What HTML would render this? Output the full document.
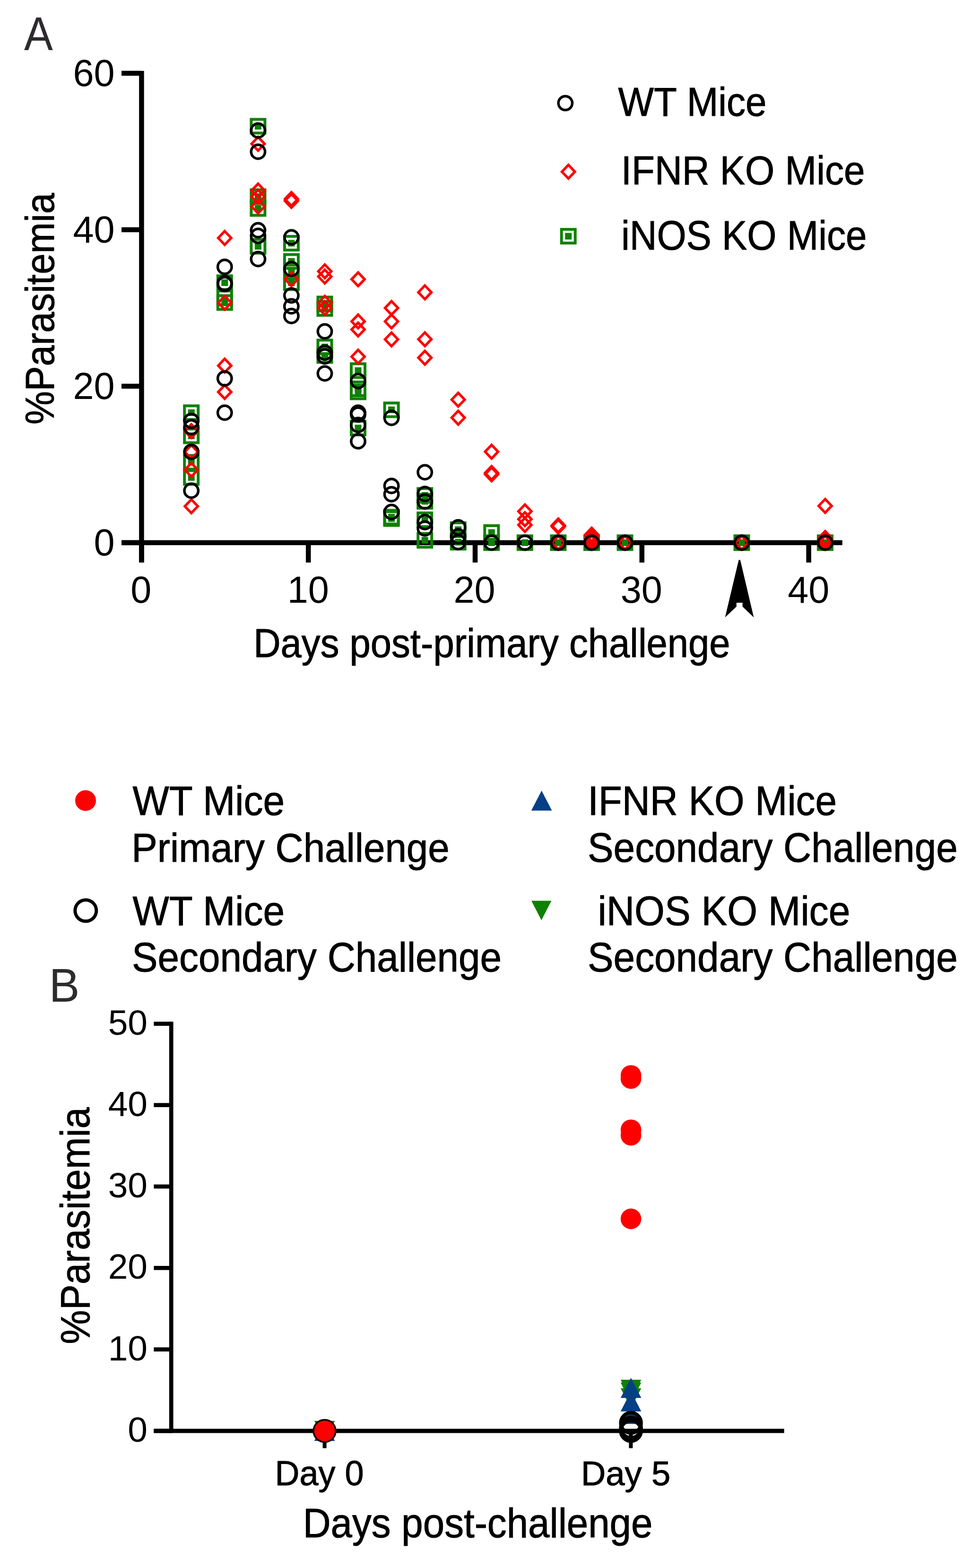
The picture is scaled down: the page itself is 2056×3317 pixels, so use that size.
<!DOCTYPE html>
<html><head><meta charset="utf-8"><title>Parasitemia figure</title>
<style>
html,body{margin:0;padding:0;background:#fff;}
body{width:2056px;height:3317px;overflow:hidden;}
svg{display:block;}
text{font-family:"Liberation Sans",Arial,sans-serif;}
</style></head>
<body>
<svg width="2056" height="3317" viewBox="0 0 2056 3317">
<rect width="2056" height="3317" fill="#fff"/>
<text transform="translate(51.07,105.70) scale(0.9137,1)" font-size="99.78" fill="#2d2b2e">A</text>
<rect x="294.15" y="150" width="10.5" height="1040" fill="#000"/>
<rect x="257" y="149.75" width="42.40" height="10.5" fill="#000"/>
<rect x="257" y="480.75" width="42.40" height="10.5" fill="#000"/>
<rect x="257" y="811.75" width="42.40" height="10.5" fill="#000"/>
<rect x="257" y="1142.75" width="42.40" height="10.5" fill="#000"/>
<rect x="257" y="1142.75" width="1524.70" height="10.5" fill="#000"/>
<rect x="294.15" y="1148" width="10.5" height="42" fill="#000"/>
<rect x="646.95" y="1148" width="10.5" height="42" fill="#000"/>
<rect x="999.75" y="1148" width="10.5" height="42" fill="#000"/>
<rect x="1352.55" y="1148" width="10.5" height="42" fill="#000"/>
<rect x="1705.35" y="1148" width="10.5" height="42" fill="#000"/>
<text x="154.56" y="181.80" font-size="79.20" fill="#000">60</text>
<text x="154.56" y="512.80" font-size="79.20" fill="#000">40</text>
<text x="154.56" y="843.80" font-size="79.20" fill="#000">20</text>
<text x="198.51" y="1174.80" font-size="79.20" fill="#000">0</text>
<text x="276.32" y="1274.70" font-size="79.20" fill="#000">0</text>
<text x="607.66" y="1274.70" font-size="79.20" fill="#000">10</text>
<text x="959.55" y="1274.70" font-size="79.20" fill="#000">20</text>
<text x="1312.84" y="1274.70" font-size="79.20" fill="#000">30</text>
<text x="1666.24" y="1274.70" font-size="79.20" fill="#000">40</text>
<text transform="translate(113.70,898.08) rotate(-90) scale(0.9287,1)" font-size="85.53" fill="#000" stroke="#000" stroke-width="1.0" stroke-linejoin="round">%Parasitemia</text>
<text transform="translate(536.13,1389.90) scale(0.9243,1)" font-size="86.11" fill="#000" stroke="#000" stroke-width="1.0" stroke-linejoin="round">Days post-primary challenge</text>
<path d="M1562.6,1184.5 L1565.8,1184.5 L1594.4,1306 L1570.6,1283.3 L1570.6,1275 L1557.8,1275 L1557.8,1283.3 L1533.7,1306 Z" fill="#000"/>
<text transform="translate(1307.50,244.70) scale(0.9294,1)" font-size="86.11" fill="#000" stroke="#000" stroke-width="1.0" stroke-linejoin="round">WT Mice</text>
<text transform="translate(1313.80,390.40) scale(0.9326,1)" font-size="85.82" fill="#000" stroke="#000" stroke-width="1.0" stroke-linejoin="round">IFNR KO Mice</text>
<text transform="translate(1314.01,527.60) scale(0.9185,1)" font-size="86.98" fill="#000" stroke="#000" stroke-width="1.0" stroke-linejoin="round">iNOS KO Mice</text>
<circle cx="1195.8" cy="218.1" r="14.7" fill="none" stroke="#000" stroke-width="5.5"/>
<path d="M1202.3,348.9 L1216.0,363.3 L1202.3,377.7 L1188.6,363.3 Z" fill="none" stroke="#ff0000" stroke-width="5.4"/>
<rect x="1187.7" y="485.2" width="29" height="29" fill="none" stroke="#108004" stroke-width="6"/><rect x="1195.2" y="492.7" width="14" height="14" fill="#108004"/>
<rect x="390.2" y="858.5" width="29" height="29" fill="none" stroke="#108004" stroke-width="6"/><rect x="397.7" y="866.0" width="14" height="14" fill="#108004"/>
<rect x="390.2" y="907.5" width="29" height="29" fill="none" stroke="#108004" stroke-width="6"/><rect x="397.7" y="915.0" width="14" height="14" fill="#108004"/>
<rect x="390.2" y="963.5" width="29" height="29" fill="none" stroke="#108004" stroke-width="6"/><rect x="397.7" y="971.0" width="14" height="14" fill="#108004"/>
<rect x="390.2" y="995.5" width="29" height="29" fill="none" stroke="#108004" stroke-width="6"/><rect x="397.7" y="1003.0" width="14" height="14" fill="#108004"/>
<rect x="460.8" y="583.5" width="29" height="29" fill="none" stroke="#108004" stroke-width="6"/><rect x="468.3" y="591.0" width="14" height="14" fill="#108004"/>
<rect x="460.8" y="615.5" width="29" height="29" fill="none" stroke="#108004" stroke-width="6"/><rect x="468.3" y="623.0" width="14" height="14" fill="#108004"/>
<rect x="460.8" y="625.5" width="29" height="29" fill="none" stroke="#108004" stroke-width="6"/><rect x="468.3" y="633.0" width="14" height="14" fill="#108004"/>
<rect x="531.4" y="252.5" width="29" height="29" fill="none" stroke="#108004" stroke-width="6"/><rect x="538.9" y="260.0" width="14" height="14" fill="#108004"/>
<rect x="531.4" y="401.5" width="29" height="29" fill="none" stroke="#108004" stroke-width="6"/><rect x="538.9" y="409.0" width="14" height="14" fill="#108004"/>
<rect x="531.4" y="426.5" width="29" height="29" fill="none" stroke="#108004" stroke-width="6"/><rect x="538.9" y="434.0" width="14" height="14" fill="#108004"/>
<rect x="531.4" y="506.5" width="29" height="29" fill="none" stroke="#108004" stroke-width="6"/><rect x="538.9" y="514.0" width="14" height="14" fill="#108004"/>
<rect x="601.9" y="500.0" width="29" height="29" fill="none" stroke="#108004" stroke-width="6"/><rect x="609.4" y="507.5" width="14" height="14" fill="#108004"/>
<rect x="601.9" y="538.5" width="29" height="29" fill="none" stroke="#108004" stroke-width="6"/><rect x="609.4" y="546.0" width="14" height="14" fill="#108004"/>
<rect x="601.9" y="560.5" width="29" height="29" fill="none" stroke="#108004" stroke-width="6"/><rect x="609.4" y="568.0" width="14" height="14" fill="#108004"/>
<rect x="601.9" y="583.5" width="29" height="29" fill="none" stroke="#108004" stroke-width="6"/><rect x="609.4" y="591.0" width="14" height="14" fill="#108004"/>
<rect x="672.5" y="628.5" width="29" height="29" fill="none" stroke="#108004" stroke-width="6"/><rect x="680.0" y="636.0" width="14" height="14" fill="#108004"/>
<rect x="672.5" y="638.0" width="29" height="29" fill="none" stroke="#108004" stroke-width="6"/><rect x="680.0" y="645.5" width="14" height="14" fill="#108004"/>
<rect x="672.5" y="719.5" width="29" height="29" fill="none" stroke="#108004" stroke-width="6"/><rect x="680.0" y="727.0" width="14" height="14" fill="#108004"/>
<rect x="672.5" y="737.5" width="29" height="29" fill="none" stroke="#108004" stroke-width="6"/><rect x="680.0" y="745.0" width="14" height="14" fill="#108004"/>
<rect x="743.0" y="769.5" width="29" height="29" fill="none" stroke="#108004" stroke-width="6"/><rect x="750.5" y="777.0" width="14" height="14" fill="#108004"/>
<rect x="743.0" y="808.0" width="29" height="29" fill="none" stroke="#108004" stroke-width="6"/><rect x="750.5" y="815.5" width="14" height="14" fill="#108004"/>
<rect x="743.0" y="814.5" width="29" height="29" fill="none" stroke="#108004" stroke-width="6"/><rect x="750.5" y="822.0" width="14" height="14" fill="#108004"/>
<rect x="743.0" y="891.0" width="29" height="29" fill="none" stroke="#108004" stroke-width="6"/><rect x="750.5" y="898.5" width="14" height="14" fill="#108004"/>
<rect x="813.6" y="852.5" width="29" height="29" fill="none" stroke="#108004" stroke-width="6"/><rect x="821.1" y="860.0" width="14" height="14" fill="#108004"/>
<rect x="813.6" y="1079.5" width="29" height="29" fill="none" stroke="#108004" stroke-width="6"/><rect x="821.1" y="1087.0" width="14" height="14" fill="#108004"/>
<rect x="813.6" y="1082.5" width="29" height="29" fill="none" stroke="#108004" stroke-width="6"/><rect x="821.1" y="1090.0" width="14" height="14" fill="#108004"/>
<rect x="884.2" y="1033.5" width="29" height="29" fill="none" stroke="#108004" stroke-width="6"/><rect x="891.7" y="1041.0" width="14" height="14" fill="#108004"/>
<rect x="884.2" y="1046.0" width="29" height="29" fill="none" stroke="#108004" stroke-width="6"/><rect x="891.7" y="1053.5" width="14" height="14" fill="#108004"/>
<rect x="884.2" y="1085.1" width="29" height="29" fill="none" stroke="#108004" stroke-width="6"/><rect x="891.7" y="1092.6" width="14" height="14" fill="#108004"/>
<rect x="884.2" y="1128.5" width="29" height="29" fill="none" stroke="#108004" stroke-width="6"/><rect x="891.7" y="1136.0" width="14" height="14" fill="#108004"/>
<rect x="954.7" y="1106.0" width="29" height="29" fill="none" stroke="#108004" stroke-width="6"/><rect x="962.2" y="1113.5" width="14" height="14" fill="#108004"/>
<rect x="954.7" y="1132.5" width="29" height="29" fill="none" stroke="#108004" stroke-width="6"/><rect x="962.2" y="1140.0" width="14" height="14" fill="#108004"/>
<rect x="1025.3" y="1112.0" width="29" height="29" fill="none" stroke="#108004" stroke-width="6"/><rect x="1032.8" y="1119.5" width="14" height="14" fill="#108004"/>
<rect x="1025.3" y="1133.5" width="29" height="29" fill="none" stroke="#108004" stroke-width="6"/><rect x="1032.8" y="1141.0" width="14" height="14" fill="#108004"/>
<rect x="1095.8" y="1133.5" width="29" height="29" fill="none" stroke="#108004" stroke-width="6"/><rect x="1103.3" y="1141.0" width="14" height="14" fill="#108004"/>
<rect x="1166.4" y="1133.5" width="29" height="29" fill="none" stroke="#108004" stroke-width="6"/><rect x="1173.9" y="1141.0" width="14" height="14" fill="#108004"/>
<rect x="1237.0" y="1133.5" width="29" height="29" fill="none" stroke="#108004" stroke-width="6"/><rect x="1244.5" y="1141.0" width="14" height="14" fill="#108004"/>
<rect x="1307.5" y="1133.5" width="29" height="29" fill="none" stroke="#108004" stroke-width="6"/><rect x="1315.0" y="1141.0" width="14" height="14" fill="#108004"/>
<rect x="1554.5" y="1133.5" width="29" height="29" fill="none" stroke="#108004" stroke-width="6"/><rect x="1562.0" y="1141.0" width="14" height="14" fill="#108004"/>
<rect x="1730.9" y="1133.5" width="29" height="29" fill="none" stroke="#108004" stroke-width="6"/><rect x="1738.4" y="1141.0" width="14" height="14" fill="#108004"/>
<path d="M404.7,897.6 L418.4,912.0 L404.7,926.4 L391.0,912.0 Z" fill="none" stroke="#ff0000" stroke-width="5.4"/>
<path d="M404.7,941.6 L418.4,956.0 L404.7,970.4 L391.0,956.0 Z" fill="none" stroke="#ff0000" stroke-width="5.4"/>
<path d="M404.7,979.6 L418.4,994.0 L404.7,1008.4 L391.0,994.0 Z" fill="none" stroke="#ff0000" stroke-width="5.4"/>
<path d="M404.7,1056.6 L418.4,1071.0 L404.7,1085.4 L391.0,1071.0 Z" fill="none" stroke="#ff0000" stroke-width="5.4"/>
<path d="M475.3,489.0 L489.0,503.4 L475.3,517.8 L461.6,503.4 Z" fill="none" stroke="#ff0000" stroke-width="5.4"/>
<path d="M475.3,626.1 L489.0,640.5 L475.3,654.9 L461.6,640.5 Z" fill="none" stroke="#ff0000" stroke-width="5.4"/>
<path d="M475.3,759.0 L489.0,773.4 L475.3,787.8 L461.6,773.4 Z" fill="none" stroke="#ff0000" stroke-width="5.4"/>
<path d="M475.3,814.8 L489.0,829.2 L475.3,843.6 L461.6,829.2 Z" fill="none" stroke="#ff0000" stroke-width="5.4"/>
<path d="M545.9,289.9 L559.6,304.3 L545.9,318.7 L532.2,304.3 Z" fill="none" stroke="#ff0000" stroke-width="5.4"/>
<path d="M545.9,388.6 L559.6,403.0 L545.9,417.4 L532.2,403.0 Z" fill="none" stroke="#ff0000" stroke-width="5.4"/>
<path d="M545.9,401.6 L559.6,416.0 L545.9,430.4 L532.2,416.0 Z" fill="none" stroke="#ff0000" stroke-width="5.4"/>
<path d="M545.9,422.6 L559.6,437.0 L545.9,451.4 L532.2,437.0 Z" fill="none" stroke="#ff0000" stroke-width="5.4"/>
<path d="M616.4,406.6 L630.1,421.0 L616.4,435.4 L602.7,421.0 Z" fill="none" stroke="#ff0000" stroke-width="5.4"/>
<path d="M616.4,410.6 L630.1,425.0 L616.4,439.4 L602.7,425.0 Z" fill="none" stroke="#ff0000" stroke-width="5.4"/>
<path d="M616.4,576.1 L630.1,590.5 L616.4,604.9 L602.7,590.5 Z" fill="none" stroke="#ff0000" stroke-width="5.4"/>
<path d="M687.0,559.6 L700.7,574.0 L687.0,588.4 L673.3,574.0 Z" fill="none" stroke="#ff0000" stroke-width="5.4"/>
<path d="M687.0,570.6 L700.7,585.0 L687.0,599.4 L673.3,585.0 Z" fill="none" stroke="#ff0000" stroke-width="5.4"/>
<path d="M687.0,626.1 L700.7,640.5 L687.0,654.9 L673.3,640.5 Z" fill="none" stroke="#ff0000" stroke-width="5.4"/>
<path d="M687.0,637.3 L700.7,651.7 L687.0,666.1 L673.3,651.7 Z" fill="none" stroke="#ff0000" stroke-width="5.4"/>
<path d="M757.5,576.4 L771.2,590.8 L757.5,605.2 L743.8,590.8 Z" fill="none" stroke="#ff0000" stroke-width="5.4"/>
<path d="M757.5,665.6 L771.2,680.0 L757.5,694.4 L743.8,680.0 Z" fill="none" stroke="#ff0000" stroke-width="5.4"/>
<path d="M757.5,682.6 L771.2,697.0 L757.5,711.4 L743.8,697.0 Z" fill="none" stroke="#ff0000" stroke-width="5.4"/>
<path d="M757.5,740.1 L771.2,754.5 L757.5,768.9 L743.8,754.5 Z" fill="none" stroke="#ff0000" stroke-width="5.4"/>
<path d="M828.1,637.1 L841.8,651.5 L828.1,665.9 L814.4,651.5 Z" fill="none" stroke="#ff0000" stroke-width="5.4"/>
<path d="M828.1,665.6 L841.8,680.0 L828.1,694.4 L814.4,680.0 Z" fill="none" stroke="#ff0000" stroke-width="5.4"/>
<path d="M828.1,703.6 L841.8,718.0 L828.1,732.4 L814.4,718.0 Z" fill="none" stroke="#ff0000" stroke-width="5.4"/>
<path d="M898.7,604.0 L912.4,618.4 L898.7,632.8 L885.0,618.4 Z" fill="none" stroke="#ff0000" stroke-width="5.4"/>
<path d="M898.7,703.3 L912.4,717.7 L898.7,732.1 L885.0,717.7 Z" fill="none" stroke="#ff0000" stroke-width="5.4"/>
<path d="M898.7,742.3 L912.4,756.7 L898.7,771.1 L885.0,756.7 Z" fill="none" stroke="#ff0000" stroke-width="5.4"/>
<path d="M969.2,831.1 L982.9,845.5 L969.2,859.9 L955.5,845.5 Z" fill="none" stroke="#ff0000" stroke-width="5.4"/>
<path d="M969.2,869.2 L982.9,883.6 L969.2,898.0 L955.5,883.6 Z" fill="none" stroke="#ff0000" stroke-width="5.4"/>
<path d="M1039.8,941.2 L1053.5,955.6 L1039.8,970.0 L1026.1,955.6 Z" fill="none" stroke="#ff0000" stroke-width="5.4"/>
<path d="M1039.8,986.1 L1053.5,1000.5 L1039.8,1014.9 L1026.1,1000.5 Z" fill="none" stroke="#ff0000" stroke-width="5.4"/>
<path d="M1039.8,989.1 L1053.5,1003.5 L1039.8,1017.9 L1026.1,1003.5 Z" fill="none" stroke="#ff0000" stroke-width="5.4"/>
<path d="M1110.3,1067.3 L1124.0,1081.7 L1110.3,1096.1 L1096.6,1081.7 Z" fill="none" stroke="#ff0000" stroke-width="5.4"/>
<path d="M1110.3,1083.9 L1124.0,1098.3 L1110.3,1112.7 L1096.6,1098.3 Z" fill="none" stroke="#ff0000" stroke-width="5.4"/>
<path d="M1110.3,1096.0 L1124.0,1110.4 L1110.3,1124.8 L1096.6,1110.4 Z" fill="none" stroke="#ff0000" stroke-width="5.4"/>
<path d="M1180.9,1097.1 L1194.6,1111.5 L1180.9,1125.9 L1167.2,1111.5 Z" fill="none" stroke="#ff0000" stroke-width="5.4"/>
<path d="M1180.9,1099.6 L1194.6,1114.0 L1180.9,1128.4 L1167.2,1114.0 Z" fill="none" stroke="#ff0000" stroke-width="5.4"/>
<path d="M1180.9,1133.6 L1194.6,1148.0 L1180.9,1162.4 L1167.2,1148.0 Z" fill="none" stroke="#ff0000" stroke-width="5.4"/>
<path d="M1251.5,1116.6 L1265.2,1131.0 L1251.5,1145.4 L1237.8,1131.0 Z" fill="none" stroke="#ff0000" stroke-width="5.4"/>
<path d="M1251.5,1122.6 L1265.2,1137.0 L1251.5,1151.4 L1237.8,1137.0 Z" fill="none" stroke="#ff0000" stroke-width="5.4"/>
<path d="M1251.5,1128.6 L1265.2,1143.0 L1251.5,1157.4 L1237.8,1143.0 Z" fill="none" stroke="#ff0000" stroke-width="5.4"/>
<path d="M1251.5,1133.6 L1265.2,1148.0 L1251.5,1162.4 L1237.8,1148.0 Z" fill="none" stroke="#ff0000" stroke-width="5.4"/>
<path d="M1322.0,1133.6 L1335.7,1148.0 L1322.0,1162.4 L1308.3,1148.0 Z" fill="none" stroke="#ff0000" stroke-width="5.4"/>
<path d="M1569.0,1133.6 L1582.7,1148.0 L1569.0,1162.4 L1555.3,1148.0 Z" fill="none" stroke="#ff0000" stroke-width="5.4"/>
<path d="M1745.4,1055.8 L1759.1,1070.2 L1745.4,1084.6 L1731.7,1070.2 Z" fill="none" stroke="#ff0000" stroke-width="5.4"/>
<path d="M1745.4,1123.6 L1759.1,1138.0 L1745.4,1152.4 L1731.7,1138.0 Z" fill="none" stroke="#ff0000" stroke-width="5.4"/>
<path d="M1745.4,1128.6 L1759.1,1143.0 L1745.4,1157.4 L1731.7,1143.0 Z" fill="none" stroke="#ff0000" stroke-width="5.4"/>
<path d="M1745.4,1133.6 L1759.1,1148.0 L1745.4,1162.4 L1731.7,1148.0 Z" fill="none" stroke="#ff0000" stroke-width="5.4"/>
<circle cx="404.7" cy="890.4" r="14.7" fill="none" stroke="#000" stroke-width="5.5"/>
<circle cx="404.7" cy="903.6" r="14.7" fill="none" stroke="#000" stroke-width="5.5"/>
<circle cx="404.7" cy="955.9" r="14.7" fill="none" stroke="#000" stroke-width="5.5"/>
<circle cx="404.7" cy="1038.0" r="14.7" fill="none" stroke="#000" stroke-width="5.5"/>
<circle cx="475.3" cy="564.5" r="14.7" fill="none" stroke="#000" stroke-width="5.5"/>
<circle cx="475.3" cy="599.0" r="14.7" fill="none" stroke="#000" stroke-width="5.5"/>
<circle cx="475.3" cy="601.0" r="14.7" fill="none" stroke="#000" stroke-width="5.5"/>
<circle cx="475.3" cy="800.6" r="14.7" fill="none" stroke="#000" stroke-width="5.5"/>
<circle cx="475.3" cy="873.0" r="14.7" fill="none" stroke="#000" stroke-width="5.5"/>
<circle cx="545.9" cy="276.0" r="14.7" fill="none" stroke="#000" stroke-width="5.5"/>
<circle cx="545.9" cy="321.0" r="14.7" fill="none" stroke="#000" stroke-width="5.5"/>
<circle cx="545.9" cy="487.0" r="14.7" fill="none" stroke="#000" stroke-width="5.5"/>
<circle cx="545.9" cy="499.0" r="14.7" fill="none" stroke="#000" stroke-width="5.5"/>
<circle cx="545.9" cy="548.0" r="14.7" fill="none" stroke="#000" stroke-width="5.5"/>
<circle cx="616.4" cy="502.0" r="14.7" fill="none" stroke="#000" stroke-width="5.5"/>
<circle cx="616.4" cy="569.0" r="14.7" fill="none" stroke="#000" stroke-width="5.5"/>
<circle cx="616.4" cy="625.0" r="14.7" fill="none" stroke="#000" stroke-width="5.5"/>
<circle cx="616.4" cy="648.0" r="14.7" fill="none" stroke="#000" stroke-width="5.5"/>
<circle cx="616.4" cy="668.5" r="14.7" fill="none" stroke="#000" stroke-width="5.5"/>
<circle cx="687.0" cy="701.0" r="14.7" fill="none" stroke="#000" stroke-width="5.5"/>
<circle cx="687.0" cy="746.0" r="14.7" fill="none" stroke="#000" stroke-width="5.5"/>
<circle cx="687.0" cy="754.0" r="14.7" fill="none" stroke="#000" stroke-width="5.5"/>
<circle cx="687.0" cy="790.0" r="14.7" fill="none" stroke="#000" stroke-width="5.5"/>
<circle cx="757.5" cy="806.0" r="14.7" fill="none" stroke="#000" stroke-width="5.5"/>
<circle cx="757.5" cy="873.0" r="14.7" fill="none" stroke="#000" stroke-width="5.5"/>
<circle cx="757.5" cy="877.0" r="14.7" fill="none" stroke="#000" stroke-width="5.5"/>
<circle cx="757.5" cy="899.0" r="14.7" fill="none" stroke="#000" stroke-width="5.5"/>
<circle cx="757.5" cy="933.5" r="14.7" fill="none" stroke="#000" stroke-width="5.5"/>
<circle cx="828.1" cy="884.0" r="14.7" fill="none" stroke="#000" stroke-width="5.5"/>
<circle cx="828.1" cy="1028.0" r="14.7" fill="none" stroke="#000" stroke-width="5.5"/>
<circle cx="828.1" cy="1045.5" r="14.7" fill="none" stroke="#000" stroke-width="5.5"/>
<circle cx="828.1" cy="1083.0" r="14.7" fill="none" stroke="#000" stroke-width="5.5"/>
<circle cx="898.7" cy="999.0" r="14.7" fill="none" stroke="#000" stroke-width="5.5"/>
<circle cx="898.7" cy="1045.0" r="14.7" fill="none" stroke="#000" stroke-width="5.5"/>
<circle cx="898.7" cy="1061.0" r="14.7" fill="none" stroke="#000" stroke-width="5.5"/>
<circle cx="898.7" cy="1104.5" r="14.7" fill="none" stroke="#000" stroke-width="5.5"/>
<circle cx="898.7" cy="1118.0" r="14.7" fill="none" stroke="#000" stroke-width="5.5"/>
<circle cx="969.2" cy="1115.5" r="14.7" fill="none" stroke="#000" stroke-width="5.5"/>
<circle cx="969.2" cy="1134.5" r="14.7" fill="none" stroke="#000" stroke-width="5.5"/>
<circle cx="969.2" cy="1147.0" r="14.7" fill="none" stroke="#000" stroke-width="5.5"/>
<circle cx="1039.8" cy="1148.0" r="14.7" fill="none" stroke="#000" stroke-width="5.5"/>
<circle cx="1110.3" cy="1148.0" r="14.7" fill="none" stroke="#000" stroke-width="5.5"/>
<circle cx="1180.9" cy="1148.0" r="14.7" fill="none" stroke="#000" stroke-width="5.5"/>
<circle cx="1251.5" cy="1148.0" r="14.7" fill="none" stroke="#000" stroke-width="5.5"/>
<circle cx="1322.0" cy="1148.0" r="14.7" fill="none" stroke="#000" stroke-width="5.5"/>
<circle cx="1569.0" cy="1148.0" r="14.7" fill="none" stroke="#000" stroke-width="5.5"/>
<circle cx="1745.4" cy="1148.0" r="14.7" fill="none" stroke="#000" stroke-width="5.5"/>
<circle cx="181" cy="1693.5" r="22" fill="#ff0000"/>
<circle cx="181.3" cy="1926.3" r="22.5" fill="none" stroke="#000" stroke-width="7"/>
<path d="M1145.6,1672.5 L1167.4,1714.8 L1123.8,1714.8 Z" fill="#063f86"/>
<path d="M1124,1905.6 L1166.4,1905.6 L1145.2,1946.7 Z" fill="#108004"/>
<text transform="translate(280.59,1723.90) scale(0.9461,1)" font-size="86.55" fill="#000" stroke="#000" stroke-width="1.0" stroke-linejoin="round">WT Mice</text>
<text transform="translate(278.25,1822.50) scale(0.9593,1)" font-size="85.24" fill="#000" stroke="#000" stroke-width="1.0" stroke-linejoin="round">Primary Challenge</text>
<text transform="translate(280.59,1957.00) scale(0.9382,1)" font-size="87.27" fill="#000" stroke="#000" stroke-width="1.0" stroke-linejoin="round">WT Mice</text>
<text transform="translate(279.02,2055.00) scale(0.9418,1)" font-size="86.84" fill="#000" stroke="#000" stroke-width="1.0" stroke-linejoin="round">Secondary Challenge</text>
<text transform="translate(1243.14,1724.10) scale(0.9398,1)" font-size="86.98" fill="#000" stroke="#000" stroke-width="1.0" stroke-linejoin="round">IFNR KO Mice</text>
<text transform="translate(1243.02,1822.60) scale(0.9427,1)" font-size="86.84" fill="#000" stroke="#000" stroke-width="1.0" stroke-linejoin="round">Secondary Challenge</text>
<text transform="translate(1264.46,1957.30) scale(0.9444,1)" font-size="86.98" fill="#000" stroke="#000" stroke-width="1.0" stroke-linejoin="round">iNOS KO Mice</text>
<text transform="translate(1243.02,2055.00) scale(0.9427,1)" font-size="86.84" fill="#000" stroke="#000" stroke-width="1.0" stroke-linejoin="round">Secondary Challenge</text>
<text transform="translate(103.81,2118.60) scale(0.9740,1)" font-size="99.49" fill="#2d2b2e">B</text>
<rect x="357.85" y="2161.3" width="8.7" height="870.0" fill="#000"/>
<rect x="325.4" y="2161.35" width="36.80" height="8.7" fill="#000"/>
<rect x="325.4" y="2333.35" width="36.80" height="8.7" fill="#000"/>
<rect x="325.4" y="2505.65" width="36.80" height="8.7" fill="#000"/>
<rect x="325.4" y="2677.95" width="36.80" height="8.7" fill="#000"/>
<rect x="325.4" y="2850.25" width="36.80" height="8.7" fill="#000"/>
<rect x="325.4" y="3022.65" width="36.80" height="8.7" fill="#000"/>
<rect x="325.4" y="3022.5" width="1333.2" height="9" fill="#000"/>
<rect x="682.6" y="3027" width="8" height="36.5" fill="#000"/>
<rect x="1330.4" y="3027" width="8" height="36.5" fill="#000"/>
<text x="228.66" y="2188.70" font-size="75.00" fill="#000">50</text>
<text x="228.66" y="2360.70" font-size="75.00" fill="#000">40</text>
<text x="228.66" y="2533.00" font-size="75.00" fill="#000">30</text>
<text x="228.66" y="2705.30" font-size="75.00" fill="#000">20</text>
<text x="228.66" y="2877.60" font-size="75.00" fill="#000">10</text>
<text x="270.29" y="3050.00" font-size="75.00" fill="#000">0</text>
<text transform="translate(189.30,2843.54) rotate(-90) scale(0.9235,1)" font-size="88.00" fill="#000" stroke="#000" stroke-width="1.0" stroke-linejoin="round">%Parasitemia</text>
<text transform="translate(581.57,3142.40) scale(0.9773,1)" font-size="73.60" fill="#000" stroke="#000" stroke-width="1.0" stroke-linejoin="round">Day 0</text>
<text transform="translate(1229.02,3142.20) scale(0.9921,1)" font-size="73.02" fill="#000" stroke="#000" stroke-width="1.0" stroke-linejoin="round">Day 5</text>
<text transform="translate(640.66,3252.20) scale(0.9279,1)" font-size="88.00" fill="#000" stroke="#000" stroke-width="1.0" stroke-linejoin="round">Days post-challenge</text>
<path d="M664.8,3005.8 L708.4,3005.8 L686.6,3048.2 Z" fill="#108004"/>
<path d="M686.6,3005.8 L708.4,3048.2 L664.8,3048.2 Z" fill="#063f86"/>
<path d="M1312.8,2918.8 L1356.4,2918.8 L1334.6,2961.2 Z" fill="#108004"/>
<path d="M1312.8,2924.8 L1356.4,2924.8 L1334.6,2967.2 Z" fill="#108004"/>
<path d="M1312.8,2936.8 L1356.4,2936.8 L1334.6,2979.2 Z" fill="#108004"/>
<path d="M1334.6,2914.8 L1356.4,2957.2 L1312.8,2957.2 Z" fill="#063f86"/>
<path d="M1334.6,2943.3 L1356.4,2985.7 L1312.8,2985.7 Z" fill="#063f86"/>
<path d="M1334.6,2969.8 L1356.4,3012.2 L1312.8,3012.2 Z" fill="#063f86"/>
<circle cx="686.6" cy="3027" r="21.5" fill="none" stroke="#000" stroke-width="7.5"/>
<circle cx="1334.6" cy="3010" r="21.5" fill="none" stroke="#000" stroke-width="7.5"/>
<circle cx="1334.6" cy="3020" r="21.5" fill="none" stroke="#000" stroke-width="7.5"/>
<circle cx="1334.6" cy="3024" r="21.5" fill="none" stroke="#000" stroke-width="7.5"/>
<circle cx="1334.6" cy="3027" r="21.5" fill="none" stroke="#000" stroke-width="7.5"/>
<circle cx="686.6" cy="3027" r="21.8" fill="#ff0000"/>
<circle cx="1334.6" cy="2275" r="21.8" fill="#ff0000"/>
<circle cx="1334.6" cy="2281.7" r="21.8" fill="#ff0000"/>
<circle cx="1334.6" cy="2390" r="21.8" fill="#ff0000"/>
<circle cx="1334.6" cy="2401.6" r="21.8" fill="#ff0000"/>
<circle cx="1334.6" cy="2578.4" r="21.8" fill="#ff0000"/>
</svg>
</body></html>
